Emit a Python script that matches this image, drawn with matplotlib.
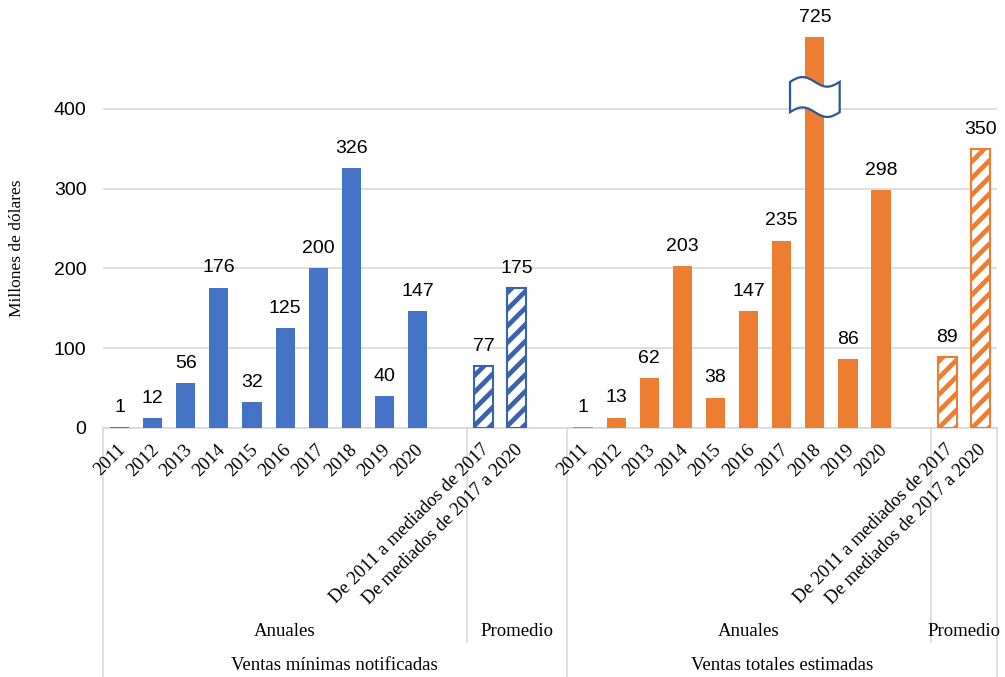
import matplotlib
matplotlib.use("Agg")
import matplotlib.pyplot as plt
import matplotlib.transforms as mtransforms
import numpy as np

# datos
years = ['2011', '2012', '2013', '2014', '2015', '2016', '2017', '2018', '2019', '2020']
prom_labels = ['De 2011 a mediados de 2017', 'De mediados de 2017 a 2020']
min_anual = [1, 12, 56, 176, 32, 125, 200, 326, 40, 147]
min_prom = [77, 175]
tot_anual = [1, 13, 62, 203, 38, 147, 235, 725, 86, 298]
tot_prom = [89, 350]

group_names = ['Ventas mínimas notificadas', 'Ventas totales estimadas']
sub_names = ['Anuales', 'Promedio']

BLUE = '#4472C4'
BLUE_EDGE = '#3A62AE'
ORANGE = '#ED7D31'
GRID = '#D9D9D9'
YTOP = 490        # el eje se corta aquí (barra de 725)

plt.rcParams['hatch.linewidth'] = 3.4
SERIF = 'Liberation Serif'
SANS = 'Liberation Sans'

fig = plt.figure(figsize=(10.05, 6.77), dpi=100)
ax = fig.add_axes([0.1025, 0.368, 0.8895, 0.577])

# posiciones de cada categoría (27 huecos en total)
x_min_anual = np.arange(10)
x_min_prom = np.array([11, 12])
x_tot_anual = np.arange(14, 24)
x_tot_prom = np.array([25, 26])

width = 0.58

def draw(xs, vals, color, edge, hatched):
    h = np.minimum(vals, YTOP)
    if hatched:
        ax.bar(xs, h, width=width, facecolor='white', edgecolor=edge,
               hatch='//', linewidth=1.5, zorder=3)
    else:
        ax.bar(xs, h, width=width, color=color, zorder=3)
    for x, v, hh in zip(xs, vals, h):
        ax.annotate(str(v), xy=(x, hh), xytext=(0, 8), textcoords='offset points',
                    ha='center', va='bottom', fontsize=14, family=SANS, color='black')

draw(x_min_anual, min_anual, BLUE, BLUE, False)
draw(x_min_prom, min_prom, BLUE, BLUE_EDGE, True)
draw(x_tot_anual, tot_anual, ORANGE, ORANGE, False)
draw(x_tot_prom, tot_prom, ORANGE, ORANGE, True)

ax.set_xlim(-0.5, 26.5)
ax.set_ylim(0, YTOP)
ax.set_yticks([0, 100, 200, 300, 400])
ax.yaxis.grid(True, color=GRID, linewidth=1.2)
ax.set_axisbelow(True)
ax.tick_params(axis='y', length=0, labelsize=14, pad=12)
for t in ax.get_yticklabels():
    t.set_family(SANS)
ax.set_xticks([])
for s in ['top', 'right', 'left']:
    ax.spines[s].set_visible(False)
ax.spines['bottom'].set_color(GRID)
ax.spines['bottom'].set_linewidth(1.2)

# símbolo de corte en la barra de 725
xc = x_tot_anual[7]
t = np.linspace(0, 1, 60)
bx = xc - 0.75 + 1.5 * t
wave = 6 * np.sin(2 * np.pi * t)
top = 415 + 19 + wave
bot = 415 - 19 + wave
ax.fill(np.concatenate([bx, bx[::-1]]), np.concatenate([top, bot[::-1]]),
        facecolor='white', edgecolor='#2F5597', linewidth=1.6, zorder=5)

# etiquetas de categorías rotadas
cat_x = list(x_min_anual) + list(x_min_prom) + list(x_tot_anual) + list(x_tot_prom)
cat_lab = years + prom_labels + years + prom_labels
for x, lab in zip(cat_x, cat_lab):
    ax.annotate(lab, xy=(x + 0.1, 0), xycoords=('data', 'axes fraction'),
                xytext=(0, -14), textcoords='offset points',
                rotation=45, rotation_mode='anchor', ha='right', va='center',
                fontsize=13.5, family=SERIF)

# líneas separadoras de la tabla de categorías
blend = mtransforms.blended_transform_factory(ax.transData, fig.transFigure)
y_axis = 0.368
for xb in [-0.5, 13.5, 26.5]:
    ax.plot([xb, xb], [y_axis, 0.0], transform=blend, color=GRID, lw=1.2, clip_on=False)
for xb in [10.5, 24.5]:
    ax.plot([xb, xb], [y_axis, 0.052], transform=blend, color=GRID, lw=1.2, clip_on=False)

# segundo y tercer nivel
for (a, b), name in zip([(-0.5, 10.5), (10.5, 13.5), (13.5, 24.5), (24.5, 26.5)],
                        sub_names * 2):
    ax.text((a + b) / 2, 1 - 632 / 677, name, transform=blend, ha='center', va='center',
            fontsize=13.5, family=SERIF)
for (a, b), name in zip([(-0.5, 13.5), (13.5, 26.5)], group_names):
    ax.text((a + b) / 2, 1 - 666 / 677, name, transform=blend, ha='center', va='center',
            fontsize=13.5, family=SERIF)

fig.text(17 / 1005, 1 - 248 / 677, 'Millones de dólares', rotation=90,
         ha='center', va='center', fontsize=12.5, family=SERIF)

fig.savefig('out.png', dpi=100)
